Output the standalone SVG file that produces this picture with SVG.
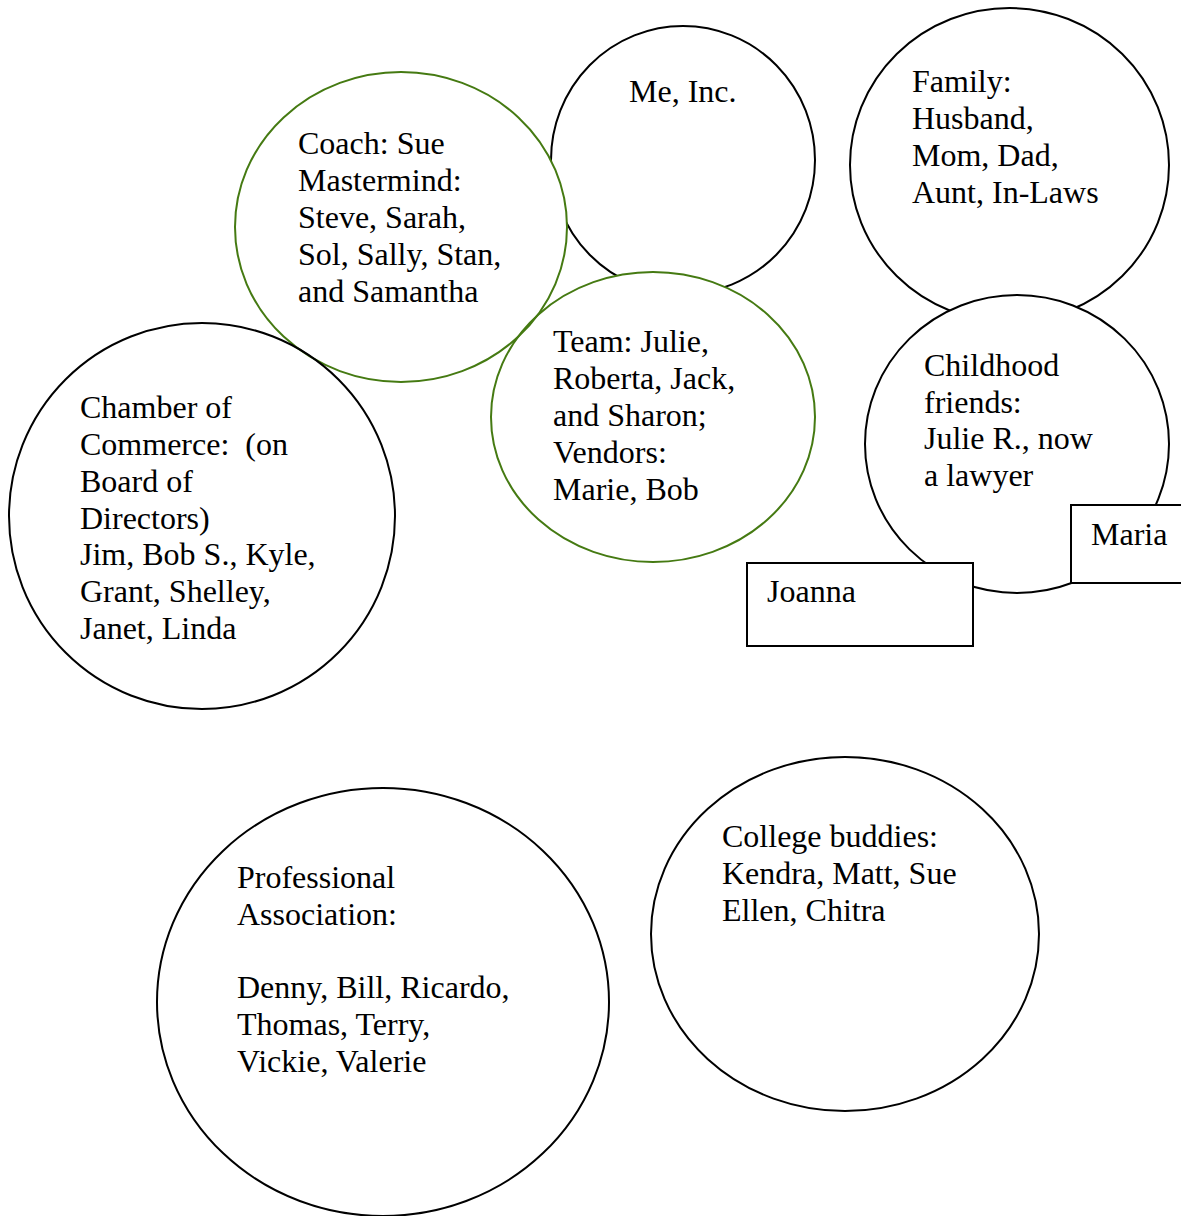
<svg xmlns="http://www.w3.org/2000/svg" width="1181" height="1216" viewBox="0 0 1181 1216">
<style>
  .bg { fill: #ffffff; }
  .blk { fill: #ffffff; stroke: #000000; stroke-width: 2; }
  .grn { fill: none; stroke: #457a12; stroke-width: 2; }
  .box { fill: #ffffff; stroke: #000000; stroke-width: 2; }
  text { font-family: "Liberation Serif", "Times New Roman", serif; font-size: 32px; fill: #000000; }
</style>
<rect width="1181" height="1216" fill="#ffffff"/>

<g id="me-inc">
  <ellipse class="blk" cx="683" cy="160" rx="132" ry="134"/>
  <text x="629" y="102">Me, Inc.</text>
</g>

<g id="green-fills">
  <ellipse class="bg" cx="401" cy="227" rx="166" ry="155"/>
  <ellipse class="bg" cx="653" cy="417" rx="162" ry="145"/>
</g>

<g id="coach">
  <ellipse class="grn" cx="401" cy="227" rx="166" ry="155"/>
  <text x="298" y="154">Coach: Sue</text>
  <text x="298" y="191">Mastermind:</text>
  <text x="298" y="228">Steve, Sarah,</text>
  <text x="298" y="265">Sol, Sally, Stan,</text>
  <text x="298" y="302">and Samantha</text>
</g>

<g id="team">
  <ellipse class="grn" cx="653" cy="417" rx="162" ry="145"/>
  <text x="553" y="352">Team: Julie,</text>
  <text x="553" y="389">Roberta, Jack,</text>
  <text x="553" y="426">and Sharon;</text>
  <text x="553" y="463">Vendors:</text>
  <text x="553" y="500">Marie, Bob</text>
</g>

<g id="chamber">
  <ellipse class="blk" cx="202" cy="516" rx="193" ry="193" fill="none" style="fill:none"/>
  <text x="80" y="418">Chamber of</text>
  <text x="80" y="455" xml:space="preserve">Commerce:  (on</text>
  <text x="80" y="492">Board of</text>
  <text x="80" y="529">Directors)</text>
  <text x="80" y="565">Jim, Bob S., Kyle,</text>
  <text x="80" y="602">Grant, Shelley,</text>
  <text x="80" y="639">Janet, Linda</text>
</g>

<g id="family">
  <ellipse class="blk" cx="1009.5" cy="165" rx="159.5" ry="157"/>
  <text x="912" y="92">Family:</text>
  <text x="912" y="129">Husband,</text>
  <text x="912" y="166">Mom, Dad,</text>
  <text x="912" y="203">Aunt, In-Laws</text>
</g>

<g id="childhood">
  <ellipse class="blk" cx="1017" cy="444" rx="152" ry="149"/>
  <text x="924" y="376">Childhood</text>
  <text x="924" y="413">friends:</text>
  <text x="924" y="449">Julie R., now</text>
  <text x="924" y="486">a lawyer</text>
</g>

<g id="joanna">
  <rect class="box" x="747" y="563" width="226" height="83"/>
  <text x="767" y="602">Joanna</text>
</g>

<g id="maria">
  <rect class="box" x="1071" y="505" width="130" height="78"/>
  <text x="1091" y="545">Maria</text>
</g>

<g id="professional">
  <ellipse class="blk" cx="383" cy="1002" rx="226" ry="214"/>
  <text x="237" y="888">Professional</text>
  <text x="237" y="925">Association:</text>
  <text x="237" y="998">Denny, Bill, Ricardo,</text>
  <text x="237" y="1035">Thomas, Terry,</text>
  <text x="237" y="1072">Vickie, Valerie</text>
</g>

<g id="college">
  <ellipse class="blk" cx="845" cy="934" rx="194" ry="177"/>
  <text x="722" y="847">College buddies:</text>
  <text x="722" y="884">Kendra, Matt, Sue</text>
  <text x="722" y="921">Ellen, Chitra</text>
</g>

<g id="connectors"/>
</svg>
